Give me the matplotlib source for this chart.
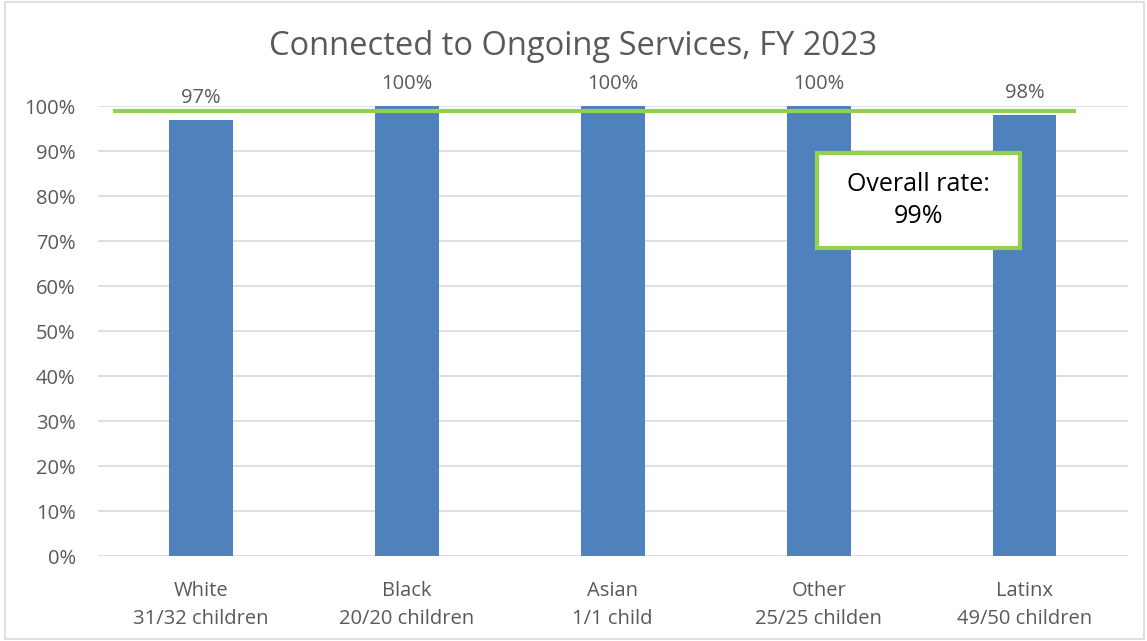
import matplotlib.pyplot as plt
from matplotlib.patches import Rectangle

categories = ['White\n31/32 children', 'Black\n20/20 children', 'Asian\n1/1 child',
              'Other\n25/25 childen', 'Latinx\n49/50 children']
rates = [97, 100, 100, 100, 98]
bar_labels = ['97%', '100%', '100%', '100%', '98%']
overall = 99
yticks = list(range(0, 101, 10))

plt.rcParams['font.family'] = ['Open Sans', 'DejaVu Sans']
grey = '#595959'

fig = plt.figure(figsize=(11.47, 6.41), dpi=100)
ax = fig.add_axes([0.0854, 0.1326, 0.8976, 0.702])

x = range(len(categories))
ax.bar(x, rates, width=0.31, color='#4f81bd', zorder=2)
for i, (v, lab) in enumerate(zip(rates, bar_labels)):
    ax.text(i, v + 2.6, lab, ha='center', va='bottom', fontsize=14.5, color=grey)

ax.plot([-0.417, 4.24], [overall, overall], color='#92d050', lw=3, zorder=3)

ax.set_xlim(-0.5, 4.5)
ax.set_ylim(0, 100)
ax.set_yticks(yticks)
ax.set_yticklabels([f'{t}%' for t in yticks], fontsize=14.5, color=grey)
ax.set_xticks(list(x))
ax.set_xticklabels(categories, fontsize=14.5, color=grey, linespacing=1.5)
ax.tick_params(axis='y', length=0, pad=16)
ax.tick_params(axis='x', length=0, pad=18)
ax.yaxis.grid(True, color='#d9d9d9', lw=1.2, zorder=0)
ax.set_axisbelow(True)
for s in ax.spines.values():
    s.set_visible(False)

box = Rectangle((2.99, 68.4), 0.986, 21.2, facecolor='white', edgecolor='#92d050',
                lw=3, zorder=4)
ax.add_patch(box)
ax.text(3.483, 79, 'Overall rate:\n99%', ha='center', va='center', fontsize=18,
        color='black', zorder=5, linespacing=1.35)

fig.text(0.5, 0.927, 'Connected to Ongoing Services, FY 2023', ha='center', va='center',
         fontsize=23.5, color=grey)

fig.add_artist(Rectangle((0.004, 0.003), 0.993, 0.994, transform=fig.transFigure,
                         fill=False, edgecolor='#d9d9d9', lw=1.2))

fig.savefig('out.png', dpi=100)
